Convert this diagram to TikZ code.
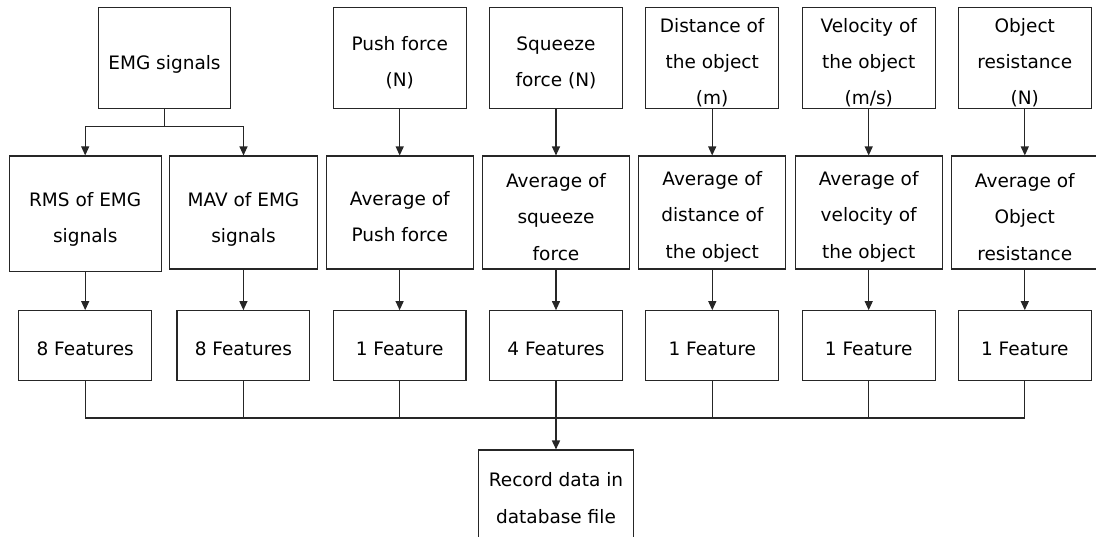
\documentclass[tikz,border=0pt]{standalone}
\usepackage{fontspec}
\newfontfamily\labelfont{DejaVu Sans}
\usetikzlibrary{arrows.meta}

\tikzset{
  box/.style={draw=black!85, line width=1.1pt, inner sep=0pt},
  lbl/.style={align=center, inner sep=0pt,
    font=\labelfont\fontsize{18.5}{36.3}\selectfont},
  % text of a box, centred and lowered by the first argument
  txt/.style 2 args={label={[lbl, yshift=-#1]center:#2}},
  topbox/.style={box, minimum width=132.8pt, minimum height=101.4pt},
  midbox/.style={box, minimum width=147.2pt, minimum height=113pt},
  featbox/.style={box, minimum width=132.8pt, minimum height=69.6pt},
  link/.style={draw=black!85, line width=1.1pt},
  arr/.style={link, -{Triangle[length=9pt,width=8pt]}},
}

\begin{document}
\begin{tikzpicture}[x=1pt,y=-1pt]
\useasboundingbox (0,0) rectangle (1096,536);

% sources
\node[topbox, txt={6pt}{EMG signals}] (emg) at (164.5,58) {};
\node[topbox, txt={4.7pt}{Push force\\(N)}] (push) at (399.7,58) {};
\node[topbox, txt={4.7pt}{Squeeze\\force (N)}] (sqz) at (556,58) {};
\node[topbox, txt={4.5pt}{Distance of\\the object\\(m)}] (dist) at (712.2,58) {};
\node[topbox, txt={4.5pt}{Velocity of\\the object\\(m/s)}] (vel) at (868.7,58) {};
\node[topbox, txt={4.5pt}{Object\\resistance\\(N)}] (res) at (1024.8,58) {};

% processing
\node[midbox, minimum width=151.7pt, minimum height=115.7pt,
      txt={5.6pt}{RMS of EMG\\signals}] (rms) at (85.2,213.8) {};
\node[midbox, txt={6.8pt}{MAV of EMG\\signals}] (mav) at (243.5,212.5) {};
\node[midbox, txt={4pt}{Average of\\Push force}] (apush) at (399.8,212.5) {};
\node[midbox, txt={4.3pt}{Average of\\squeeze\\force}] (asqz) at (556,212.5) {};
\node[midbox, txt={4.3pt}{Average of\\distance of\\the object}] (adist) at (712.3,212.5) {};
\node[midbox, txt={4.3pt}{Average of\\velocity of\\the object}] (avel) at (868.7,212.5) {};
\node[midbox, txt={4.3pt}{Average of\\Object\\resistance}] (ares) at (1024.8,212.5) {};

% feature counts
\node[featbox, txt={3.3pt}{8 Features}] (f1) at (85.2,345.5) {};
\node[featbox, txt={3.3pt}{8 Features}] (f2) at (243.4,345.5) {};
\node[featbox, txt={3.3pt}{1 Feature}]  (f3) at (399.6,345.5) {};
\node[featbox, txt={3.3pt}{4 Features}] (f4) at (556,345.5) {};
\node[featbox, txt={3.3pt}{1 Feature}]  (f5) at (712.3,345.5) {};
\node[featbox, txt={3.3pt}{1 Feature}]  (f6) at (868.7,345.5) {};
\node[featbox, txt={3.3pt}{1 Feature}]  (f7) at (1024.8,345.5) {};

% storage
\node[box, minimum width=154.6pt, minimum height=96pt,
      txt={0pt}{Record data in\\database file}] (rec) at (556,498) {};

% EMG split
\draw[arr] (emg.south) -- ++(0,17.3) -| (rms.north);
\draw[arr] (emg.south) -- ++(0,17.3) -| (mav.north);

% straight chains
\foreach \a/\b in {push/apush, sqz/asqz, dist/adist, vel/avel, res/ares}
  \draw[arr] (\a.south) -- (\a.south |- \b.north);
\foreach \a/\b in {rms/f1, mav/f2, apush/f3, asqz/f4, adist/f5, avel/f6, ares/f7}
  \draw[arr] (\b.north |- \a.south) -- (\b.north);

% collecting bus
\coordinate (bus) at (556,418);
\foreach \f in {f1,f2,f3,f5,f6,f7}
  \draw[link] (\f.south) |- (bus);
\draw[link] (f4.south) -- (bus);
\draw[arr, line width=1.6pt] (bus) -- (rec.north);
\end{tikzpicture}
\end{document}
